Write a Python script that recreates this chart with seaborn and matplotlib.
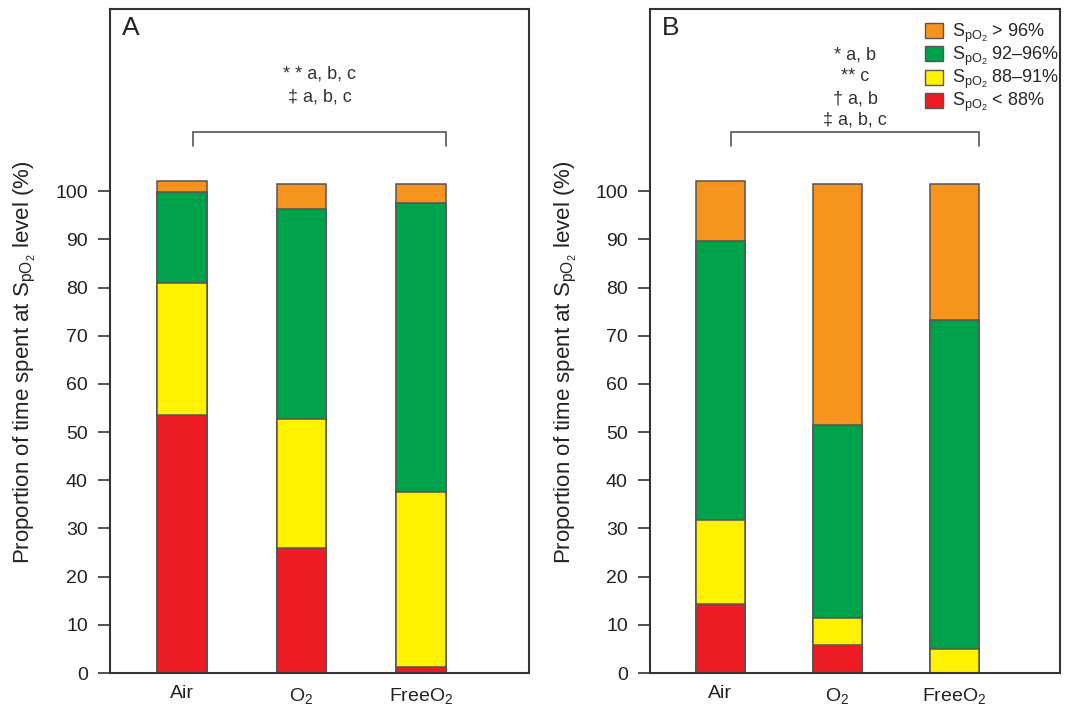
import numpy as np
import pandas as pd
import matplotlib.pyplot as plt
import seaborn as sns
from matplotlib.patches import Patch

# --- data (percent of time at each SpO2 level) ---
groups = ['Air', 'O2', 'FreeO2']
group_labels = ['Air', r'$\mathregular{O_2}$', r'Free$\mathregular{O_2}$']
level_names = ['< 88%', '88–91%', '92–96%', '> 96%']
level_colors = ['#ED1C24', '#FFF200', '#00A14B', '#F7941D']

# panel A
a_lt88 = [53.5, 25.9, 1.2]
a_88_91 = [27.4, 26.8, 36.3]
a_92_96 = [18.9, 43.6, 60.0]
a_gt96 = [2.3, 5.2, 4.0]

# panel B
b_lt88 = [14.3, 5.8, 0.0]
b_88_91 = [17.4, 5.6, 5.0]
b_92_96 = [57.9, 40.1, 68.2]
b_gt96 = [12.5, 50.0, 28.3]

notes_a = ['* * a, b, c', '‡ a, b, c']
notes_a_y = [124.3, 119.5]
notes_b = ['* a, b', '** c', '† a, b', '‡ a, b, c']
notes_b_y = [128.2, 123.7, 119.1, 114.7]

sns.set_style('ticks')
plt.rcParams['font.family'] = ['Liberation Sans', 'DejaVu Sans']
plt.rcParams['mathtext.fontset'] = 'custom'
plt.rcParams['mathtext.rm'] = 'Liberation Sans'

EDGE = '#555555'
SPINE = '#333333'
TXT = '#222222'


def draw_panel(ax, segments, letter, notes, notes_y, label_x):
    df = pd.DataFrame(dict(zip(level_names, segments)), index=groups)
    cum = df.cumsum(axis=1)
    cum['group'] = groups
    # draw cumulative totals from the top layer down so lower layers sit on top
    for name, color in reversed(list(zip(level_names, level_colors))):
        sns.barplot(data=cum, x='group', y=name, order=groups, color=color,
                    saturation=1, width=0.415, edgecolor=EDGE, linewidth=1.1,
                    errorbar=None, ax=ax)

    ax.set_xlim(-0.6, 2.9)
    ax.set_ylim(0, 137.8)
    ax.set_yticks(np.arange(0, 101, 10))
    ax.set_xticks(range(len(groups)))
    ax.set_xticklabels(group_labels, fontsize=14)
    ax.tick_params(axis='y', labelsize=14, length=9, width=1.2,
                   color=SPINE, pad=7, labelcolor=TXT)
    ax.tick_params(axis='x', length=0, pad=9, labelcolor=TXT)
    ax.set_xlabel('')
    ax.set_ylabel(r'Proportion of time spent at $\mathregular{S_{pO_2}}$ level (%)',
                  fontsize=16, color=TXT)
    ax.yaxis.set_label_coords(label_x, 0.468)
    for sp in ax.spines.values():
        sp.set_visible(True)
        sp.set_color(SPINE)
        sp.set_linewidth(1.5)

    # comparison bracket
    ax.plot([0.09, 0.09, 2.207, 2.207], [109.3, 112.2, 112.2, 109.3],
            color=EDGE, lw=1.2, solid_joinstyle='miter')
    for txt, y in zip(notes, notes_y):
        ax.text(1.15, y, txt, ha='center', va='center', fontsize=13,
                color='#333333')

    ax.text(0.028, 0.99, letter, transform=ax.transAxes, ha='left', va='top',
            fontsize=19, color=TXT)


fig = plt.figure(figsize=(10.69, 7.05), dpi=100)
fig.patch.set_facecolor('white')
ax_a = fig.add_axes([110 / 1069, 32 / 705, 419 / 1069, 664 / 705])
ax_b = fig.add_axes([650 / 1069, 32 / 705, 410 / 1069, 664 / 705])

draw_panel(ax_a, [a_lt88, a_88_91, a_92_96, a_gt96], 'A', notes_a, notes_a_y, -0.172)
draw_panel(ax_b, [b_lt88, b_88_91, b_92_96, b_gt96], 'B', notes_b, notes_b_y, -0.174)

handles = [Patch(facecolor=c, edgecolor=EDGE, linewidth=1.0,
                 label=r'$\mathregular{S_{pO_2}}$ ' + n)
           for n, c in zip(level_names, level_colors)][::-1]
ax_b.legend(handles=handles, loc='upper right', bbox_to_anchor=(1.03, 1.0),
            frameon=False, fontsize=13, handlelength=1.0, handleheight=0.9,
            handletextpad=0.5, labelspacing=0.0, borderaxespad=0.3)

fig.savefig('out.png', dpi=100, facecolor='white')
